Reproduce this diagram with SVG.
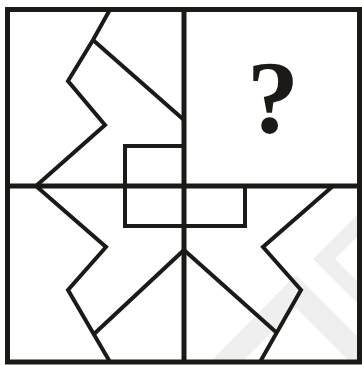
<svg xmlns="http://www.w3.org/2000/svg" width="362" height="365" viewBox="0 0 362 365">
<style>
.ln{fill:none;stroke:#1b1a17;stroke-width:4;stroke-linejoin:miter;stroke-linecap:butt}
.fr{fill:none;stroke:#1b1a17;stroke-width:5}
.wm{fill:#efefef;stroke:none}
.q{font-family:"Liberation Serif","Times New Roman",serif;font-weight:bold;font-size:104px;fill:#1b1a17}
</style>
<rect width="362" height="365" fill="#ffffff"/>
<g id="watermark">
<polygon class="wm" points="313,259 362,210 362,232 335,259 362,286 362,308"/>
<polygon class="wm" points="210,362 296,275 362,341 362,362 350,362 296,308 242,362"/>
</g>
<g id="frame">
<rect class="fr" x="7.5" y="9.5" width="352" height="352.5"/>
<line class="fr" x1="184" y1="9.5" x2="184" y2="362"/>
<line class="fr" x1="7.5" y1="186" x2="359.5" y2="186"/>
</g>
<g id="connectors">
<polyline id="zigzag-top-left" class="ln" points="110,9.5 93,40 68,81 105,125 36,186"/>
<line id="diag-top-left" class="ln" x1="93" y1="40" x2="184" y2="120"/>
<polyline id="zigzag-bottom-left" class="ln" points="36,186 106,247 68,290 110,362"/>
<line id="diag-bottom-left" class="ln" x1="94" y1="334" x2="184" y2="250"/>
<polyline id="zigzag-bottom-right" class="ln" points="333,186 263,247 301,290 260,362"/>
<line id="diag-bottom-right" class="ln" x1="184" y1="250" x2="277" y2="333"/>
<path id="center-rect" class="ln" d="M184,146 H125 V226 H245 V186"/>
</g>
<g id="question">
<text class="q" x="273" y="133" text-anchor="middle">?</text>
</g>
</svg>
